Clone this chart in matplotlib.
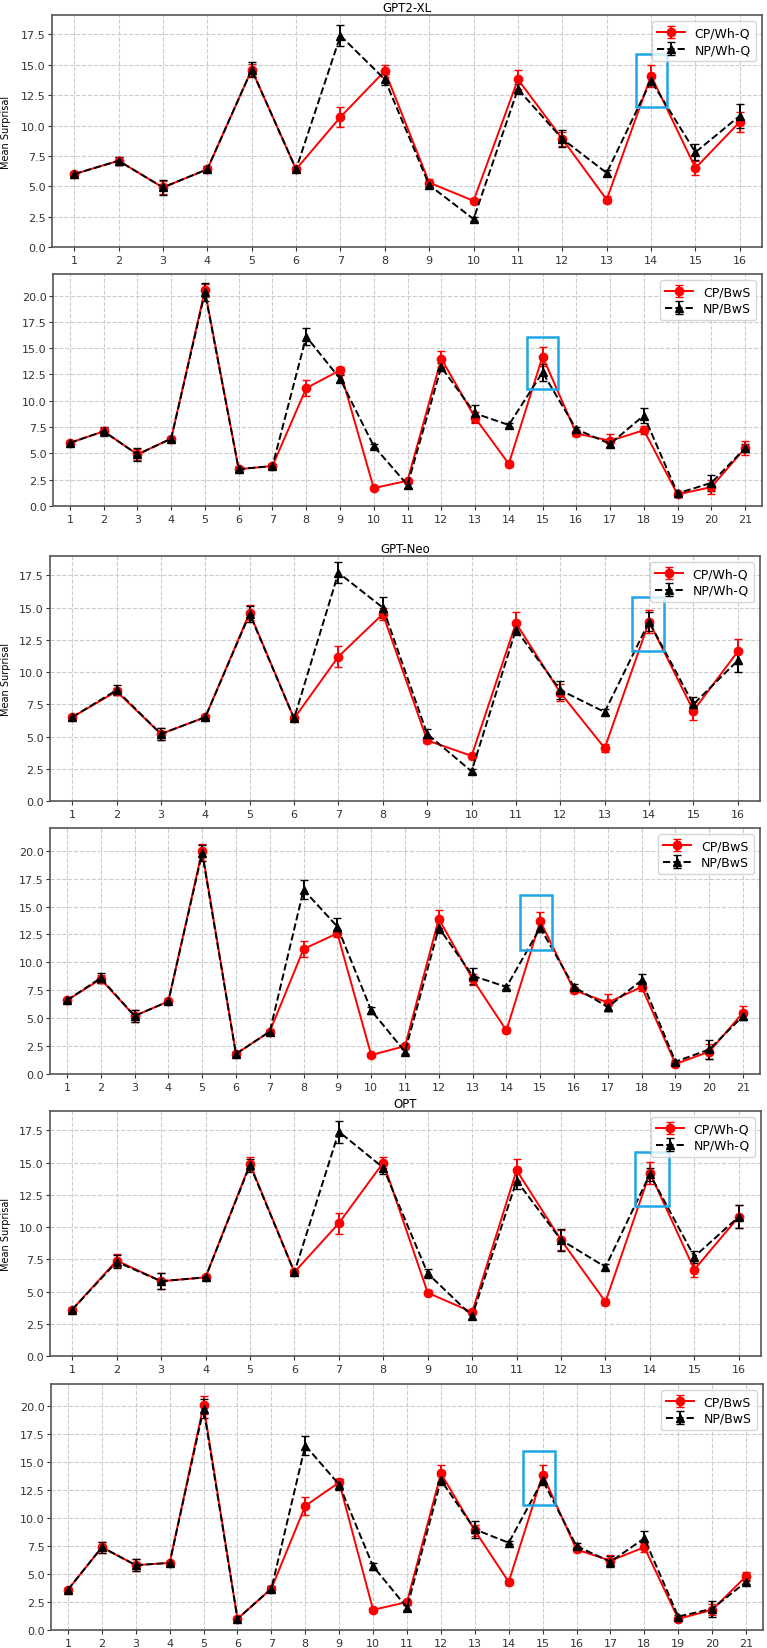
import numpy as np
import matplotlib
matplotlib.use('Agg')
import matplotlib.pyplot as plt
from matplotlib.patches import Rectangle

# positions 1..16 (Wh-Q) and 1..21 (BwS)
pos_whq = np.arange(1, 17)
pos_bws = np.arange(1, 22)

# ---------------- GPT2-XL ----------------
gpt2_cp_whq = [6.0, 7.1, 4.9, 6.4, 14.6, 6.4, 10.7, 14.5, 5.3, 3.8, 13.8, 8.9, 3.9, 14.1, 6.5, 10.3]
gpt2_cp_whq_err = [0.15, 0.35, 0.55, 0.2, 0.5, 0.2, 0.8, 0.5, 0.3, 0.15, 0.8, 0.6, 0.3, 0.9, 0.55, 0.85]
gpt2_np_whq = [6.0, 7.1, 4.9, 6.4, 14.6, 6.4, 17.4, 13.8, 5.1, 2.3, 13.0, 8.9, 6.1, 13.7, 7.8, 10.8]
gpt2_np_whq_err = [0.15, 0.35, 0.6, 0.25, 0.6, 0.2, 0.85, 0.45, 0.2, 0.2, 0.4, 0.7, 0.25, 0.4, 0.65, 1.0]

gpt2_cp_bws = [6.0, 7.1, 4.9, 6.4, 20.5, 3.5, 3.8, 11.2, 12.9, 1.7, 2.4, 14.0, 8.4, 4.0, 14.2, 6.9, 6.2, 7.2, 1.1, 1.8, 5.5]
gpt2_cp_bws_err = [0.15, 0.35, 0.55, 0.2, 0.6, 0.25, 0.15, 0.75, 0.35, 0.15, 0.2, 0.75, 0.5, 0.3, 0.9, 0.25, 0.6, 0.4, 0.2, 0.7, 0.65]
gpt2_np_bws = [6.0, 7.1, 4.9, 6.4, 20.3, 3.5, 3.8, 16.1, 12.1, 5.7, 2.0, 13.2, 8.8, 7.7, 12.7, 7.3, 5.9, 8.6, 1.2, 2.2, 5.5]
gpt2_np_bws_err = [0.15, 0.4, 0.6, 0.2, 0.85, 0.25, 0.15, 0.8, 0.35, 0.2, 0.25, 0.4, 0.8, 0.15, 0.8, 0.2, 0.3, 0.75, 0.15, 0.75, 0.4]

# ---------------- GPT-Neo ----------------
neo_cp_whq = [6.5, 8.5, 5.2, 6.5, 14.6, 6.4, 11.2, 14.5, 4.7, 3.5, 13.8, 8.4, 4.1, 13.9, 7.0, 11.6]
neo_cp_whq_err = [0.2, 0.3, 0.5, 0.2, 0.6, 0.2, 0.8, 0.5, 0.2, 0.15, 0.85, 0.65, 0.3, 0.9, 0.7, 0.95]
neo_np_whq = [6.5, 8.6, 5.2, 6.5, 14.5, 6.4, 17.7, 15.0, 5.2, 2.3, 13.3, 8.6, 6.9, 13.9, 7.5, 10.9]
neo_np_whq_err = [0.15, 0.4, 0.5, 0.2, 0.6, 0.2, 0.8, 0.8, 0.35, 0.15, 0.4, 0.7, 0.25, 0.75, 0.6, 0.9]

neo_cp_bws = [6.6, 8.5, 5.2, 6.5, 20.0, 1.8, 3.8, 11.2, 12.6, 1.7, 2.5, 13.9, 8.5, 3.9, 13.7, 7.5, 6.4, 7.8, 0.9, 2.0, 5.5]
neo_cp_bws_err = [0.15, 0.35, 0.5, 0.15, 0.6, 0.15, 0.15, 0.75, 0.3, 0.15, 0.2, 0.8, 0.5, 0.25, 0.8, 0.25, 0.75, 0.4, 0.15, 0.7, 0.6]
neo_np_bws = [6.6, 8.6, 5.2, 6.5, 19.8, 1.8, 3.8, 16.5, 13.2, 5.7, 2.0, 13.1, 8.8, 7.8, 13.1, 7.8, 6.0, 8.4, 1.1, 2.2, 5.2]
neo_np_bws_err = [0.15, 0.45, 0.5, 0.15, 0.75, 0.15, 0.15, 0.85, 0.75, 0.3, 0.2, 0.5, 0.7, 0.15, 0.4, 0.25, 0.4, 0.6, 0.15, 0.85, 0.4]

# ---------------- OPT ----------------
opt_cp_whq = [3.6, 7.4, 5.8, 6.1, 14.9, 6.5, 10.3, 15.0, 4.9, 3.4, 14.4, 9.0, 4.2, 14.2, 6.7, 10.8]
opt_cp_whq_err = [0.15, 0.5, 0.6, 0.15, 0.5, 0.2, 0.8, 0.4, 0.2, 0.15, 0.85, 0.8, 0.25, 0.85, 0.55, 0.9]
opt_np_whq = [3.6, 7.3, 5.8, 6.1, 14.8, 6.5, 17.4, 14.6, 6.4, 3.1, 13.6, 9.0, 6.9, 14.1, 7.7, 10.8]
opt_np_whq_err = [0.15, 0.5, 0.6, 0.15, 0.5, 0.2, 0.85, 0.45, 0.35, 0.2, 0.65, 0.85, 0.25, 0.5, 0.45, 0.9]

opt_cp_bws = [3.6, 7.4, 5.8, 6.0, 20.1, 1.0, 3.7, 11.1, 13.2, 1.8, 2.5, 14.0, 8.9, 4.3, 13.9, 7.2, 6.2, 7.4, 1.0, 1.8, 4.8]
opt_cp_bws_err = [0.2, 0.5, 0.55, 0.15, 0.8, 0.15, 0.2, 0.8, 0.3, 0.15, 0.2, 0.75, 0.5, 0.3, 0.85, 0.2, 0.5, 0.4, 0.15, 0.5, 0.4]
opt_np_bws = [3.6, 7.4, 5.8, 6.0, 19.8, 1.0, 3.7, 16.5, 13.0, 5.7, 2.0, 13.4, 9.0, 7.8, 13.4, 7.5, 6.1, 8.2, 1.2, 1.9, 4.3]
opt_np_bws_err = [0.2, 0.5, 0.55, 0.15, 0.85, 0.15, 0.2, 0.85, 0.5, 0.3, 0.2, 0.4, 0.75, 0.15, 0.4, 0.3, 0.5, 0.65, 0.15, 0.7, 0.2]

W, H = 767, 1649
fig = plt.figure(figsize=(W / 100, H / 100), dpi=100)

# (left, top, right, bottom) in pixels, ylim top, title, positions, data, labels, highlight box
panels = [
    ((52, 16, 762, 248), 19.1, 'GPT2-XL', pos_whq, gpt2_cp_whq, gpt2_cp_whq_err, gpt2_np_whq, gpt2_np_whq_err,
     ('CP/Wh-Q', 'NP/Wh-Q'), (13.65, 11.55, 0.7, 4.3)),
    ((53, 275, 762, 507), 22.05, None, pos_bws, gpt2_cp_bws, gpt2_cp_bws_err, gpt2_np_bws, gpt2_np_bws_err,
     ('CP/BwS', 'NP/BwS'), (14.55, 11.1, 0.9, 4.95)),
    ((50, 557, 760, 802), 19.0, 'GPT-Neo', pos_whq, neo_cp_whq, neo_cp_whq_err, neo_np_whq, neo_np_whq_err,
     ('CP/Wh-Q', 'NP/Wh-Q'), (13.62, 11.6, 0.72, 4.25)),
    ((50, 829, 760, 1075), 22.04, None, pos_bws, neo_cp_bws, neo_cp_bws_err, neo_np_bws, neo_np_bws_err,
     ('CP/BwS', 'NP/BwS'), (14.4, 11.14, 0.95, 4.9)),
    ((50, 1112, 761, 1357), 19.0, 'OPT', pos_whq, opt_cp_whq, opt_cp_whq_err, opt_np_whq, opt_np_whq_err,
     ('CP/Wh-Q', 'NP/Wh-Q'), (13.67, 11.6, 0.75, 4.25)),
    ((51, 1385, 763, 1631), 22.0, None, pos_bws, opt_cp_bws, opt_cp_bws_err, opt_np_bws, opt_np_bws_err,
     ('CP/BwS', 'NP/BwS'), (14.41, 11.18, 0.96, 4.86)),
]

for (l, t, r, b), ytop, title, pos, cp, cp_err, npv, np_err, labels, box in panels:
    ax = fig.add_axes([l / W, 1 - b / H, (r - l) / W, (b - t) / H])
    ax.errorbar(pos, cp, yerr=cp_err, color='red', marker='o', markersize=6, linestyle='-',
                linewidth=1.4, capsize=3, label=labels[0])
    ax.errorbar(pos, npv, yerr=np_err, color='black', marker='^', markersize=6, linestyle='--',
                linewidth=1.4, capsize=3, label=labels[1])
    ax.add_patch(Rectangle((box[0], box[1]), box[2], box[3], fill=False,
                           edgecolor='#1da6e6', linewidth=1.8, zorder=5))
    ax.set_xlim(0.5, pos[-1] + 0.5)
    ax.set_ylim(0, ytop)
    ax.set_xticks(pos)
    ax.set_yticks(np.arange(0, ytop, 2.5))
    ax.grid(True, linestyle='--', color='#cccccc', linewidth=0.8)
    ax.tick_params(labelsize=8, colors='#333333', length=3)
    ax.tick_params(axis='x', pad=2.5)
    ax.tick_params(axis='y', pad=1.5)
    for s in ax.spines.values():
        s.set_color('#555555')
        s.set_linewidth(1.2)
    if title:
        ax.set_title(title, fontsize=8.5, pad=3)
        ax.set_ylabel('Mean Surprisal', fontsize=7)
        ax.yaxis.set_label_coords((11 - l) / (r - l), 0.5)
    ax.legend(loc='upper right', fontsize=9, handlelength=2.2, borderpad=0.4, labelspacing=0.3)

fig.savefig('out.png', dpi=100)
